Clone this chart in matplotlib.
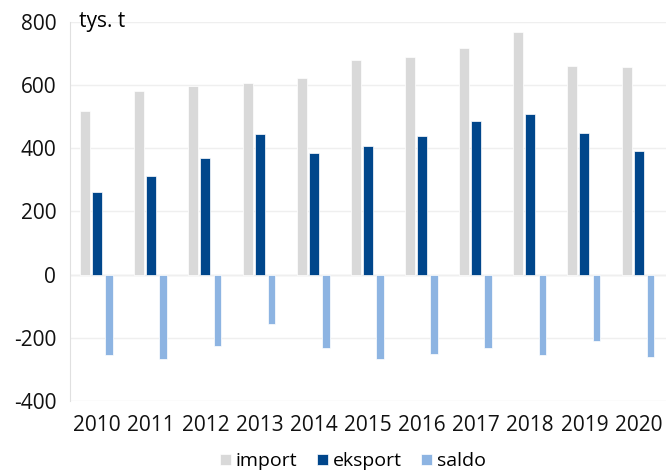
import numpy as np
import matplotlib
matplotlib.use("Agg")
import matplotlib.pyplot as plt

years = ["2010", "2011", "2012", "2013", "2014", "2015", "2016", "2017", "2018", "2019", "2020"]
imports = [519, 582, 596, 607, 621, 678, 690, 717, 768, 660, 657]
exports = [261, 313, 368, 445, 384, 408, 438, 485, 509, 448, 391]
saldo = [-254, -267, -225, -158, -234, -267, -250, -231, -255, -209, -262]

C_IMP = "#d9d9d9"
C_EXP = "#00468b"
C_SAL = "#8db4e2"

plt.rcParams["font.family"] = ["Open Sans", "DejaVu Sans"]
plt.rcParams["axes.unicode_minus"] = False

fig = plt.figure(figsize=(6.67, 4.75), dpi=100)
ax = fig.add_axes([0.105, 0.156, 0.893, 0.798])

x = np.arange(len(years))
off = 0.222
ax.bar(x - off, imports, 0.185, color=C_IMP, edgecolor="white", linewidth=0.5, label="import", zorder=3)
ax.bar(x, exports, 0.185, color=C_EXP, edgecolor="white", linewidth=0.5, label="eksport", zorder=3)
ax.bar(x + off, saldo, 0.14, color=C_SAL, edgecolor="white", linewidth=0.5, label="saldo", zorder=3)

ax.set_xlim(-0.5, len(years) - 0.5)
ax.set_ylim(-400, 800)
ax.set_yticks(range(-400, 801, 200))
ax.set_xticks(x)
ax.set_xticklabels(years)
ax.grid(axis="y", color="#efefef", linewidth=1, zorder=0)
ax.axhline(0, color="#e6e6e6", linewidth=1, zorder=1)
for s in ["top", "right", "bottom"]:
    ax.spines[s].set_visible(False)
ax.spines["left"].set_color("#e0e0e0")
ax.tick_params(length=0, labelsize=15, colors="#111111")
ax.tick_params(axis="x", pad=10)
ax.tick_params(axis="y", pad=10)

ax.text(0.015, 1.0, "tys. t", transform=ax.transAxes, fontsize=15, va="center", ha="left")

ax.legend(loc="upper center", bbox_to_anchor=(0.475, -0.1), ncol=3, frameon=False,
          fontsize=14, handlelength=0.55, handleheight=0.55, handletextpad=0.25, columnspacing=1.0,
          borderpad=0.2)

fig.savefig("out.png", dpi=100)
